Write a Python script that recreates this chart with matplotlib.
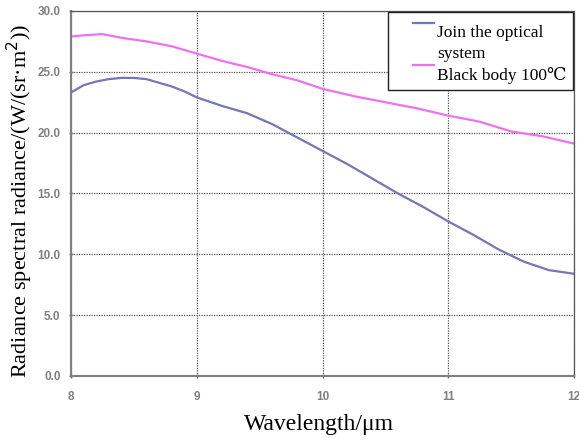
import matplotlib
matplotlib.use("Agg")
import matplotlib.pyplot as plt
from matplotlib.patches import Rectangle
from matplotlib.lines import Line2D

# Data
wl_blue = [8.0, 8.1, 8.2, 8.3, 8.4, 8.5, 8.6, 8.7, 8.8, 8.9, 9.0, 9.2, 9.4, 9.6,
           9.8, 10.0, 10.2, 10.4, 10.6, 10.8, 11.0, 11.2, 11.4, 11.5, 11.6, 11.8, 12.0]
rad_optical = [23.3, 23.9, 24.2, 24.4, 24.5, 24.5, 24.4, 24.1, 23.8, 23.4, 22.9, 22.2,
               21.6, 20.7, 19.6, 18.5, 17.4, 16.2, 15.0, 13.9, 12.7, 11.6, 10.4, 9.9,
               9.4, 8.7, 8.4]
wl_pink = [8.0, 8.1, 8.25, 8.4, 8.6, 8.8, 9.0, 9.2, 9.4, 9.6, 9.8, 10.0, 10.25,
           10.5, 10.75, 11.0, 11.25, 11.5, 11.75, 12.0]
rad_blackbody = [27.9, 28.0, 28.1, 27.8, 27.5, 27.1, 26.5, 25.9, 25.4, 24.8, 24.3,
                 23.6, 23.0, 22.5, 22.0, 21.4, 20.9, 20.1, 19.7, 19.1]
labels = ["Join the optical\nsystem", "Black body 100\u2103"]
xticks = [8, 9, 10, 11, 12]
yticks = [0, 5, 10, 15, 20, 25, 30]

serif = ["Liberation Serif", "DejaVu Serif", "Noto Sans CJK SC"]

fig = plt.figure(figsize=(5.79, 4.38), dpi=100)
ax = fig.add_axes([0.1226, 0.1416, 0.8688, 0.8333])

l1, = ax.plot(wl_blue, rad_optical, color="#7676b6", lw=1.6)
l2, = ax.plot(wl_pink, rad_blackbody, color="#f070f0", lw=1.6)

ax.set_xlim(8, 12)
ax.set_ylim(0, 30)
ax.set_xticks(xticks)
ax.set_yticks(yticks)
ax.set_xticklabels([str(t) for t in xticks])
ax.set_yticklabels([f"{t:.1f}" for t in yticks])
ax.tick_params(axis="both", labelsize=8.5, colors="#707070", length=3, width=1,
               direction="inout", labelcolor="#808080")
ax.tick_params(axis="x", pad=9)
ax.tick_params(axis="y", pad=6)
for lab in ax.get_xticklabels() + ax.get_yticklabels():
    lab.set_family(["Liberation Sans", "DejaVu Sans"])
    lab.set_fontweight("bold")

ax.grid(True, color="#555555", linestyle=(0, (1, 1)), linewidth=0.9)
for s in ["left", "bottom"]:
    ax.spines[s].set_color("#808080")
    ax.spines[s].set_linewidth(1.5)
for s in ["top", "right"]:
    ax.spines[s].set_color("#555555")
    ax.spines[s].set_linestyle((0, (1, 1)))
    ax.spines[s].set_linewidth(0.9)

ax.set_xlabel("Wavelength/\u03bcm", family=serif, fontsize=17, va="baseline")
ax.xaxis.set_label_coords(0.493, -0.148)
ax.set_ylabel("Radiance spectral radiance/(W/(sr\u00b7m$^2$))", family=serif,
              fontsize=16, va="center")
ax.yaxis.set_label_coords(-0.101, 0.479)

# Legend (drawn manually to match the layout)
tr = ax.transAxes
ax.add_patch(Rectangle((0.630, 0.784), 0.368, 0.213, transform=tr, facecolor="white",
                       edgecolor="#222222", linewidth=1.0, zorder=5, clip_on=False))
ax.add_line(Line2D([0.680, 0.722], [0.967, 0.967], transform=tr, color=l1.get_color(),
                   lw=1.6, zorder=6))
ax.add_line(Line2D([0.680, 0.722], [0.852, 0.852], transform=tr, color=l2.get_color(),
                   lw=1.6, zorder=6))
line_a, line_b = labels[0].split("\n")
for txt, yb in [(line_a, 0.929), (line_b, 0.871), (labels[1], 0.811)]:
    ax.text(0.728, yb, txt, transform=tr, family=serif, fontsize=12.5,
            va="baseline", ha="left", zorder=7)

fig.savefig("out.png", dpi=100)
